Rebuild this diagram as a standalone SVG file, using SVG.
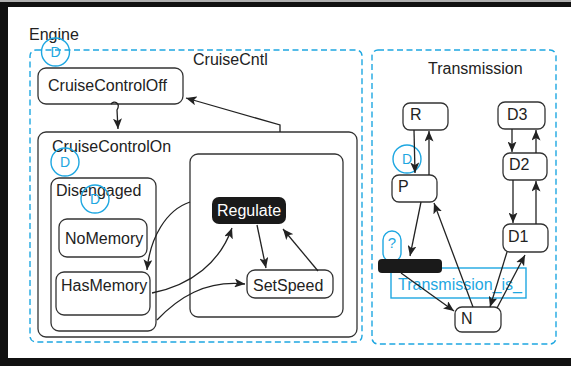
<svg xmlns="http://www.w3.org/2000/svg" width="571" height="366" viewBox="0 0 571 366">
  <defs>
    <marker id="arrow" markerUnits="userSpaceOnUse" markerWidth="11" markerHeight="9" refX="10.5" refY="4.5" orient="auto">
      <path d="M0,0 L10.5,4.5 L0,9 L2.5,4.5 Z" fill="#222"/>
    </marker>
    <style>
      text { font-family: "Liberation Sans", Arial, sans-serif; font-size: 16px; fill: #222; }
      .state { fill: #fff; stroke: #333; stroke-width: 1.3; }
      .region { fill: none; stroke: #1ea7e1; stroke-width: 1.4; stroke-dasharray: 6 3.5; }
      .hist { fill: none; stroke: #1ea7e1; stroke-width: 1.4; }
      .blue { fill: #1ea7e1; }
      .hd { fill: #1ea7e1; font-size: 14px; text-anchor: middle; }
      .edge { fill: none; stroke: #222; stroke-width: 1.3; marker-end: url(#arrow); }
      .line { fill: none; stroke: #222; stroke-width: 1.3; }
    </style>
  </defs>

  <rect width="571" height="366" fill="#fff"/>
  <!-- outer frame -->
  <rect x="0" y="0" width="571" height="2" fill="#b0b0b0"/>
  <rect x="0" y="2" width="571" height="5" fill="#111"/>
  <rect x="0" y="2" width="8" height="364" fill="#111"/>
  <rect x="0" y="358" width="571" height="8" fill="#111"/>

  <text x="29" y="40">Engine</text>

  <!-- CruiseCntl region -->
  <g id="CruiseCntl">
    <rect class="region" x="30" y="50" width="332" height="292" rx="6"/>
    <text x="193" y="65">CruiseCntl</text>
    <circle class="hist" cx="55.5" cy="52" r="14"/>
    <text class="hd" x="55.5" y="57">D</text>
  </g>

  <g id="CruiseControlOff">
    <rect class="state" x="38" y="68" width="145" height="36" rx="8"/>
    <text x="48" y="91">CruiseControlOff</text>
  </g>

  <g id="CruiseControlOn">
    <rect class="state" x="38" y="132" width="319" height="205" rx="8"/>
    <text x="52" y="152">CruiseControlOn</text>
    <circle class="hist" cx="65" cy="162" r="14"/>
    <text class="hd" x="65" y="167">D</text>
  </g>

  <g id="Disengaged">
    <rect class="state" x="51" y="178" width="105" height="153" rx="8"/>
    <text x="56" y="196">Disengaged</text>
    <circle class="hist" cx="95" cy="199" r="14"/>
    <text class="hd" x="95" y="204">D</text>
  </g>

  <g id="Engaged">
    <rect class="state" x="190" y="154" width="153" height="163" rx="8"/>
  </g>

  <g id="NoMemory">
    <rect class="state" x="59" y="219" width="88" height="38" rx="8"/>
    <text x="65" y="244">NoMemory</text>
  </g>

  <g id="HasMemory">
    <rect class="state" x="56" y="272" width="94" height="43" rx="8"/>
    <text x="61" y="291">HasMemory</text>
  </g>

  <g id="Regulate">
    <rect x="212" y="197" width="74" height="27" rx="7" fill="#1a1a1a"/>
    <text x="217" y="216" style="fill:#fff">Regulate</text>
  </g>

  <g id="SetSpeed">
    <rect class="state" x="247" y="270" width="86" height="28" rx="8"/>
    <text x="253" y="291">SetSpeed</text>
  </g>

  <!-- Transmission region -->
  <g id="Transmission">
    <rect class="region" x="372" y="50" width="184" height="294" rx="6"/>
    <text x="428" y="74">Transmission</text>
  </g>

  <g id="R">
    <rect class="state" x="403" y="103" width="45" height="27" rx="7"/>
    <text x="410" y="120">R</text>
  </g>

  <g id="D3">
    <rect class="state" x="498" y="102" width="47" height="27" rx="7"/>
    <text x="507" y="120">D3</text>
  </g>

  <g id="P">
    <rect class="state" x="392" y="175" width="45" height="27" rx="7"/>
    <text x="398" y="192">P</text>
    <circle class="hist" cx="407" cy="159" r="14"/>
    <text class="hd" x="407" y="164">D</text>
  </g>

  <g id="D2">
    <rect class="state" x="503" y="153" width="44" height="27" rx="7"/>
    <text x="509" y="170">D2</text>
  </g>

  <g id="D1">
    <rect class="state" x="503" y="224" width="45" height="28" rx="7"/>
    <text x="508" y="242">D1</text>
  </g>

  <g id="N">
    <rect class="state" x="455" y="307" width="46" height="25" rx="7"/>
    <text x="461" y="324">N</text>
  </g>

  <g id="Transmission_is_">
    <rect x="391" y="268" width="135" height="30" fill="none" stroke="#1ea7e1" stroke-width="1.4"/>
    <text x="398" y="290" class="blue">Transmission_is_</text>
  </g>

  <g id="choice">
    <rect x="383" y="231" width="18" height="31" rx="9" fill="none" stroke="#1ea7e1" stroke-width="1.4"/>
    <text x="392" y="248" class="blue" style="font-size:15px" text-anchor="middle">?</text>
  </g>

  <g id="junction">
    <rect x="378" y="259" width="64" height="14" rx="4" fill="#1a1a1a"/>
  </g>

  <!-- transitions -->
  <g id="connectors">
    <path class="edge" d="M 111 104 C 114 100, 121 103, 117 110 L 118 129"/>
    <path class="edge" d="M 280 132 L 280 125 L 186 98"/>
    <path class="edge" d="M 190 202 C 166 210, 150 238, 147 270"/>
    <path class="edge" d="M 152 293 C 192 285, 220 262, 232 228"/>
    <path class="edge" d="M 157 320 C 178 298, 205 280, 245 284"/>
    <path class="edge" d="M 257 225 L 266 268"/>
    <path class="edge" d="M 318 271 L 283 229"/>

    <path class="edge" d="M 414 130 L 415 173"/>
    <path class="edge" d="M 429 175 L 429 131"/>
    <path class="edge" d="M 512 129 L 512 152"/>
    <path class="edge" d="M 536 153 L 536 130"/>
    <path class="edge" d="M 513 180 L 513 223"/>
    <path class="edge" d="M 536 224 L 536 181"/>
    <path class="edge" d="M 421 202 L 410 256"/>
    <path class="edge" d="M 401 273 L 454 311"/>
    <path class="edge" d="M 473 307 L 434 203"/>
    <path class="edge" d="M 507 252 L 490 307"/>
    <path class="edge" d="M 497 308 L 525 255"/>
  </g>
</svg>
